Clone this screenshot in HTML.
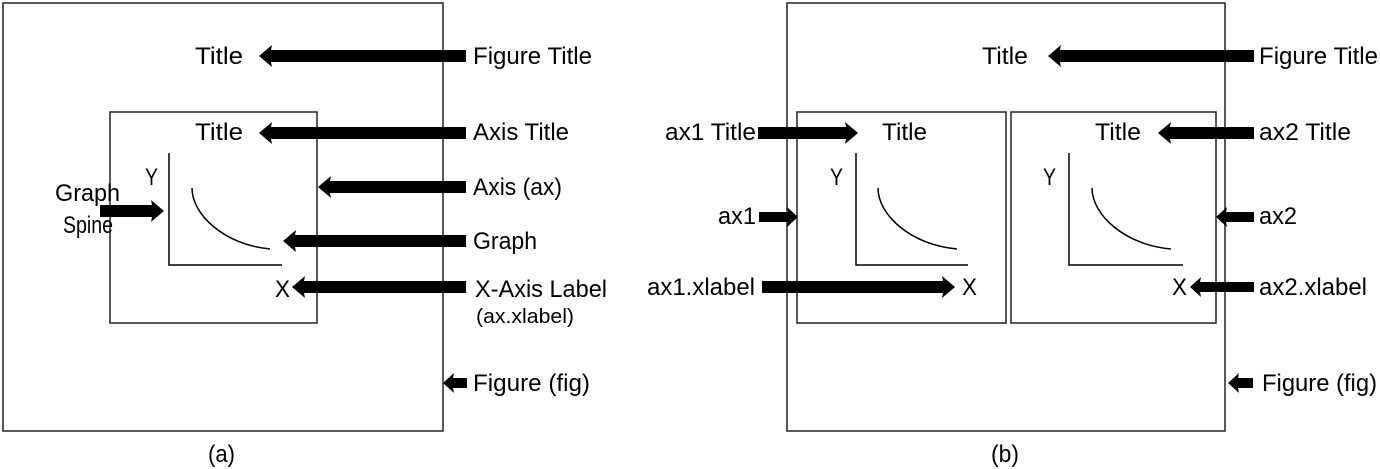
<!DOCTYPE html>
<html><head><meta charset="utf-8"><style>
html,body{margin:0;padding:0;background:#fff;}
svg{display:block;}
text{font-family:"Liberation Sans",sans-serif;font-size:24px;fill:#000;}
</style></head><body>
<svg width="1380" height="469" viewBox="0 0 1380 469" xmlns="http://www.w3.org/2000/svg">
<g fill="none" stroke="#222" stroke-width="1.5">
<rect x="3" y="3" width="440" height="428"/>
<rect x="110" y="112" width="207" height="211"/>
<rect x="787" y="3" width="438" height="428"/>
<rect x="797" y="112" width="209" height="211"/>
<rect x="1011" y="112" width="205" height="211"/>
</g>
<g fill="none" stroke="#000" stroke-width="1.5">
<polyline points="169,153 169,265 282,265"/>
<path d="M192,188 C192,215 225,245 270,249"/>
<polyline points="856,153 856,265 968,265"/>
<path d="M878,188 C878,215 911,245 957,249"/>
<polyline points="1069,153 1069,265 1183,265"/>
<path d="M1092,188 C1092,215 1125,245 1171,249"/>
</g>
<g fill="#000">
<polygon points="259,56 272,45 271,50 466,50 466,62 271,62 272,67"/>
<polygon points="259,133 272,122 271,127 466,127 466,139 271,139 272,144"/>
<polygon points="318,187 331,176 330,181 466,181 466,193 330,193 331,198"/>
<polygon points="283,241 296,230 295,235 466,235 466,247 295,247 296,252"/>
<polygon points="292,287 305,276 304,281 466,281 466,293 304,293 305,298"/>
<polygon points="443,383 454,373 453,378 467,378 467,388 453,388 454,393"/>
<polygon points="164,211 151,200 152,205 100,205 100,217 152,217 151,222"/>
<polygon points="1048,56 1061,45 1060,50 1254,50 1254,62 1060,62 1061,67"/>
<polygon points="858,133 845,122 846,127 758,127 758,139 846,139 845,144"/>
<polygon points="798,217 787,207 788,212 759,212 759,222 788,222 787,227"/>
<polygon points="955,287 942,276 943,281 762,281 762,293 943,293 942,298"/>
<polygon points="1158,133 1171,122 1170,127 1254,127 1254,139 1170,139 1171,144"/>
<polygon points="1216,217 1227,207 1226,212 1254,212 1254,222 1226,222 1227,227"/>
<polygon points="1190,287 1201,277 1200,282 1254,282 1254,292 1200,292 1201,297"/>
<polygon points="1228,383 1239,373 1238,378 1253,378 1253,388 1238,388 1239,393"/>
</g>
<g>
<text x="195" y="64" textLength="48" lengthAdjust="spacingAndGlyphs">Title</text>
<text x="473" y="64" textLength="119" lengthAdjust="spacingAndGlyphs">Figure Title</text>
<text x="195" y="140" textLength="48" lengthAdjust="spacingAndGlyphs">Title</text>
<text x="473" y="140" textLength="96" lengthAdjust="spacingAndGlyphs">Axis Title</text>
<text x="473" y="195" textLength="89" lengthAdjust="spacingAndGlyphs">Axis (ax)</text>
<text x="473" y="249" textLength="64" lengthAdjust="spacingAndGlyphs">Graph</text>
<text x="475" y="297" textLength="132" lengthAdjust="spacingAndGlyphs">X-Axis Label</text>
<text x="476" y="323" style="font-size:20px" textLength="98" lengthAdjust="spacingAndGlyphs">(ax.xlabel)</text>
<text x="473" y="391" textLength="117" lengthAdjust="spacingAndGlyphs">Figure (fig)</text>
<text x="145" y="185" textLength="13" lengthAdjust="spacingAndGlyphs">Y</text>
<text x="275" y="297" textLength="15" lengthAdjust="spacingAndGlyphs">X</text>
<text x="55" y="201" textLength="65" lengthAdjust="spacingAndGlyphs">Graph</text>
<text x="63" y="233" textLength="50" lengthAdjust="spacingAndGlyphs">Spine</text>
<text x="208" y="462" textLength="27" lengthAdjust="spacingAndGlyphs">(a)</text>

<text x="982" y="64" textLength="46" lengthAdjust="spacingAndGlyphs">Title</text>
<text x="1259" y="64" textLength="119" lengthAdjust="spacingAndGlyphs">Figure Title</text>
<text x="665" y="140" textLength="91" lengthAdjust="spacingAndGlyphs">ax1 Title</text>
<text x="882" y="140" textLength="45" lengthAdjust="spacingAndGlyphs">Title</text>
<text x="718" y="224" textLength="38" lengthAdjust="spacingAndGlyphs">ax1</text>
<text x="647" y="295" textLength="108" lengthAdjust="spacingAndGlyphs">ax1.xlabel</text>
<text x="962" y="295" textLength="15" lengthAdjust="spacingAndGlyphs">X</text>
<text x="830" y="185" textLength="13" lengthAdjust="spacingAndGlyphs">Y</text>
<text x="1095" y="140" textLength="46" lengthAdjust="spacingAndGlyphs">Title</text>
<text x="1259" y="140" textLength="92" lengthAdjust="spacingAndGlyphs">ax2 Title</text>
<text x="1043" y="185" textLength="13" lengthAdjust="spacingAndGlyphs">Y</text>
<text x="1259" y="224" textLength="38" lengthAdjust="spacingAndGlyphs">ax2</text>
<text x="1172" y="295" textLength="15" lengthAdjust="spacingAndGlyphs">X</text>
<text x="1259" y="295" textLength="108" lengthAdjust="spacingAndGlyphs">ax2.xlabel</text>
<text x="1262" y="391" textLength="115" lengthAdjust="spacingAndGlyphs">Figure (fig)</text>
<text x="991" y="462" textLength="28" lengthAdjust="spacingAndGlyphs">(b)</text>
</g>
</svg>
</body></html>
